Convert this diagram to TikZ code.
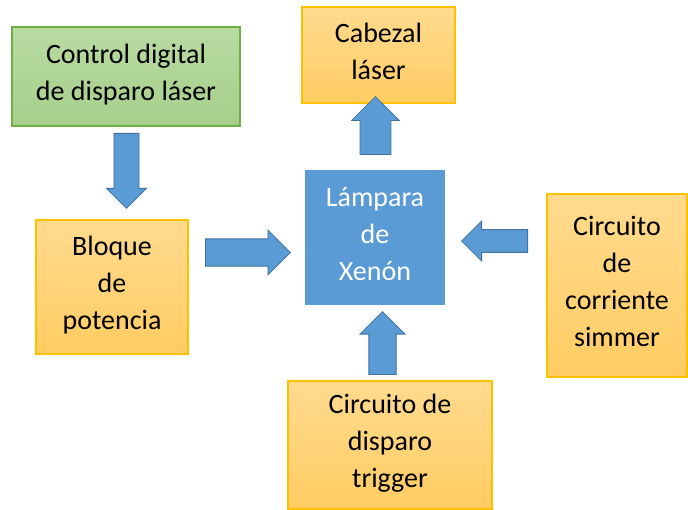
\documentclass[tikz,border=0pt]{standalone}
\usepackage{fontspec}
\setmainfont{Carlito}
\usetikzlibrary{shapes.arrows}

\newlength{\du}
\setlength{\du}{1pt}

\definecolor{verdetop}{RGB}{184,219,162}
\definecolor{verdebot}{RGB}{166,207,139}
\definecolor{verdeline}{RGB}{112,173,71}
\definecolor{naranjatop}{RGB}{255,219,143}
\definecolor{naranjabot}{RGB}{255,204,98}
\definecolor{naranjaline}{RGB}{255,192,0}
\definecolor{azul}{RGB}{91,155,213}
\definecolor{azulline}{RGB}{65,113,156}

\tikzset{
  caja/.style={rectangle, inner sep=0pt, align=center, text depth=8\du,
    font=\fontsize{28}{37}\selectfont},
  cajaverde/.style={caja, draw=verdeline, line width=1.5\du,
    top color=verdetop, bottom color=verdebot},
  cajanaranja/.style={caja, draw=naranjaline, line width=2\du,
    top color=naranjatop, bottom color=naranjabot},
  cajaazul/.style={caja, fill=azul, text=white},
  flecha/.style={single arrow, draw=azulline, fill=azul, line width=0.8\du,
    inner sep=0pt, single arrow tip angle=90, anchor=tail}
}

\begin{document}
\begin{tikzpicture}
\pgftransformyscale{-1.000000}
\useasboundingbox (0\du,0\du) rectangle (688\du,510\du);

% bloques
\node[cajaverde, minimum width=228\du, minimum height=99\du] (control) at (126\du,76.5\du)
  {Control digital\\de disparo láser};
\node[cajanaranja, minimum width=153\du, minimum height=96\du] (cabezal) at (378.5\du,55\du)
  {Cabezal\\láser};
\node[cajanaranja, minimum width=152\du, minimum height=134\du] (potencia) at (112\du,287\du)
  {Bloque\\de\\potencia};
\node[cajaazul, minimum width=140\du, minimum height=135\du] (lampara) at (375\du,237.5\du)
  {Lámpara\\de\\Xenón};
\node[cajanaranja, minimum width=140\du, minimum height=183\du] (simmer) at (617\du,285.5\du)
  {Circuito\\de\\corriente\\simmer};
\node[cajanaranja, minimum width=204\du, minimum height=128\du] (trigger) at (390\du,445\du)
  {Circuito de\\disparo\\trigger};

% flechas de bloque
\node[flecha, rotate=-90, minimum height=75\du, minimum width=40\du, inner ysep=11.5\du]
  (f1) at (126.5\du,133\du) {};
\node[flecha, minimum height=85\du, minimum width=45\du, inner ysep=10.5\du]
  (f2) at (205\du,252.5\du) {};
\node[flecha, rotate=180, minimum height=66\du, minimum width=40\du, inner ysep=9\du]
  (f3) at (528\du,241\du) {};
\node[flecha, rotate=90, minimum height=63\du, minimum width=45\du, inner ysep=10.5\du]
  (f4) at (382.5\du,375\du) {};
\node[flecha, rotate=90, minimum height=58\du, minimum width=48\du, inner ysep=12.5\du]
  (f5) at (375.5\du,155\du) {};
\end{tikzpicture}
\end{document}
